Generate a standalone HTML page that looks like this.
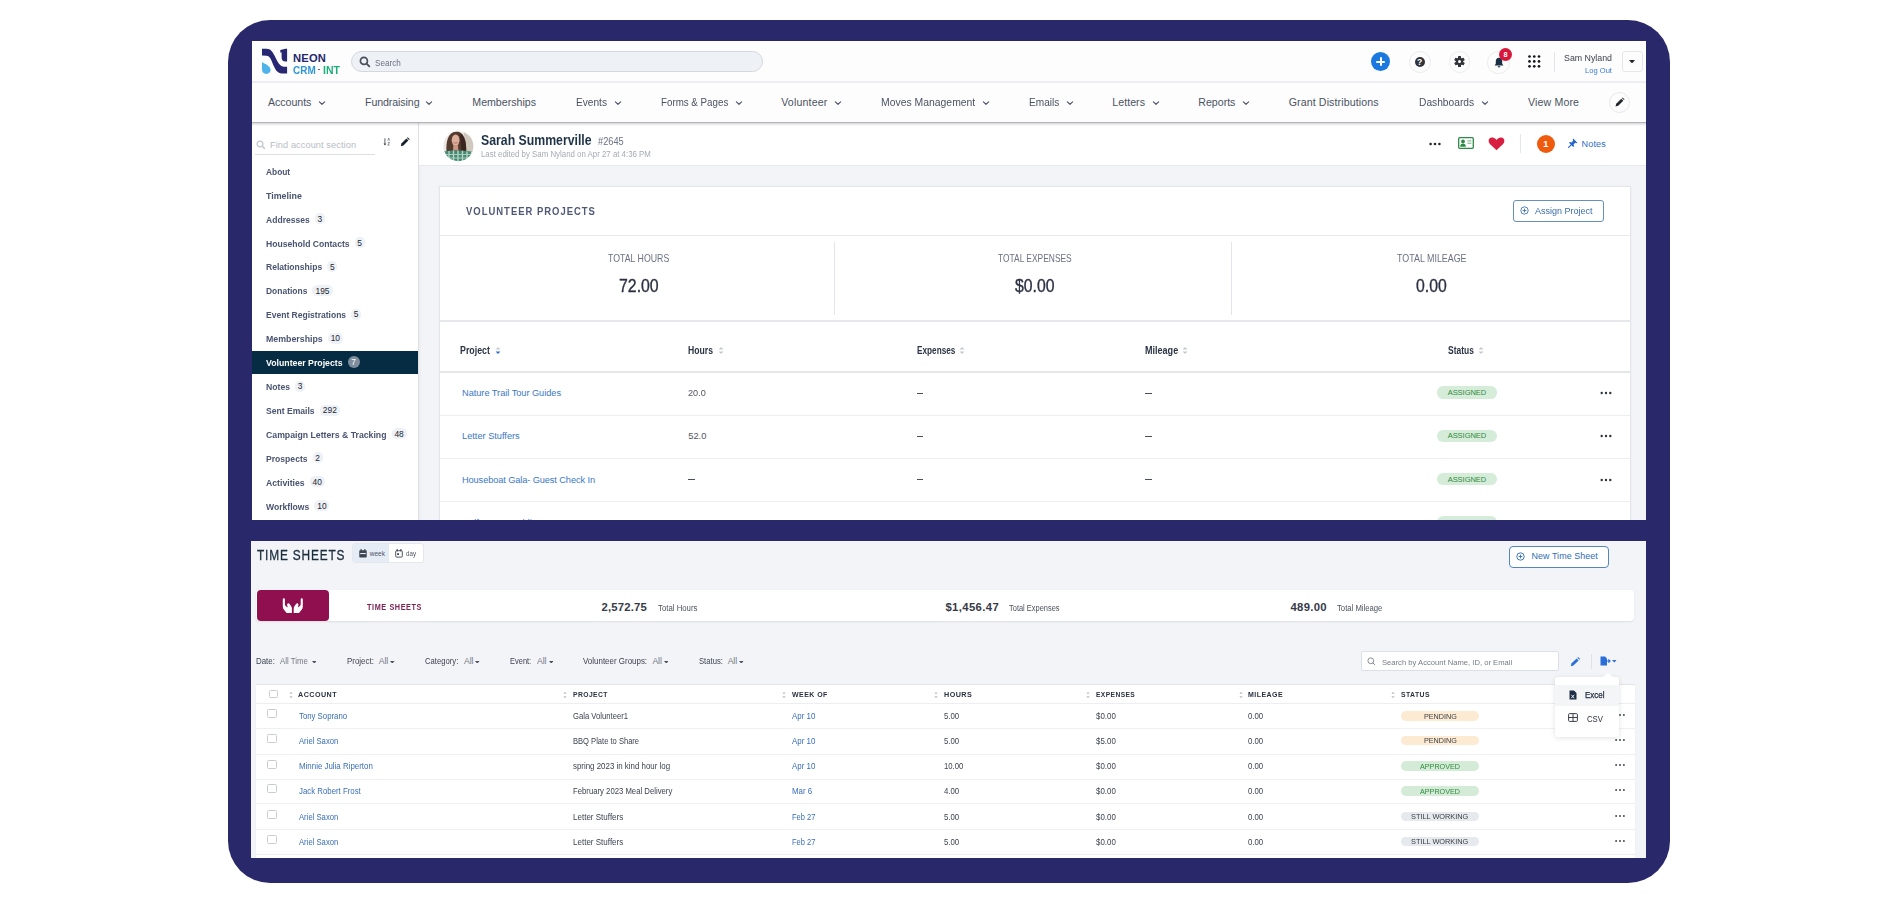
<!DOCTYPE html>
<html><head><meta charset="utf-8"><title>Volunteer Projects - Neon CRM</title>
<style>
html,body{margin:0;padding:0;background:#fff;}
body{width:1898px;height:903px;overflow:hidden;position:relative;font-family:"Liberation Sans",sans-serif;}
.a{position:absolute;display:block;}
.t{position:absolute;white-space:nowrap;}
.scr{position:absolute;overflow:hidden;}
.in{position:absolute;}
</style></head><body>
<div class="a" style="left:228px;top:20px;width:1442px;height:863px;background:#29286b;border-radius:42px;"></div>
<div class="scr" style="left:252px;top:41px;width:1394px;height:479px;background:#f3f4f8;"><div class="in" style="left:-252px;top:-41px;">
<div class="a" style="left:252px;top:41px;width:1394px;height:40px;background:#fdfdfd;"></div>
<div class="a" style="left:252px;top:81px;width:1394px;height:2px;background:#eceef2;"></div>
<div class="a" style="left:252px;top:83px;width:1394px;height:39px;background:#fdfdfd;"></div>
<div class="a" style="left:252px;top:122px;width:1394px;height:1px;background:#b3b4b7;"></div>
<svg class="a" style="left:258px;top:44px;" width="34" height="34" viewBox="0 0 34 34"><path d="M4 4.66 L8.6 4.66 C12.5 4.66 14.5 7.5 16.5 11.5 C18.5 15.5 20 19.5 23 21.7 C24.5 22.6 26 22.8 29.1 22.8 L29.1 29.6 L24 29.6 C19.5 29.2 17.5 26 15.5 21.5 C13.5 17 12.5 12 8.6 11.8 L4 11.6 Z" fill="#262672"/><path d="M22.3 6 L27.5 4.66 L29.1 4.66 L29.1 17.6 L27.5 17.6 C25 17.4 23.6 16.2 23.6 13.5 L23.6 8.6 L22.3 8.6 Z" fill="#262672"/><path d="M4 18.3 C8 20 12.6 22.5 12.6 26 C12.6 28.3 10.7 29.9 8.3 29.9 C5.9 29.9 4 28.2 4 25.8 Z" fill="#4db3ea"/></svg>
<div class="t" style="left:293.00px;top:53.00px;font-size:11.17px;line-height:11.17px;color:#25266b;font-weight:700;letter-spacing:0.203px;">NEON</div>
<div class="t" style="left:293.00px;top:65.00px;font-size:10.89px;line-height:10.89px;color:#2f95db;font-weight:700;transform:scaleX(0.9159);transform-origin:0 0;">CRM</div>
<div class="a" style="left:317.6px;top:69.2px;width:2.2px;height:1.3px;background:#666;"></div>
<div class="t" style="left:322.90px;top:65.00px;font-size:10.89px;line-height:10.89px;color:#1aae7c;font-weight:700;transform:scaleX(0.9636);transform-origin:0 0;">INT</div>
<div class="a" style="left:351px;top:51px;width:410px;height:19px;background:#eef1f6;border:1px solid #d3d7de;border-radius:11px;"></div>
<svg class="a" style="left:359px;top:56px;" width="12" height="12" viewBox="0 0 12 12"><circle cx="4.9" cy="4.9" r="3.5" fill="none" stroke="#4a4f5c" stroke-width="1.7"/><path d="M7.6 7.6 L10.3 10.3" stroke="#4a4f5c" stroke-width="1.9" stroke-linecap="round"/></svg>
<div class="t" style="left:374.80px;top:59.00px;font-size:8.80px;line-height:8.80px;color:#6b7080;transform:scaleX(0.9250);transform-origin:0 0;">Search</div>
<div class="a" style="left:1371px;top:52px;width:19.2px;height:19.2px;background:#1a78de;border-radius:50%;"></div>
<div class="a" style="left:1376.1px;top:60.7px;width:9px;height:1.9px;background:#fff;border-radius:1px;"></div>
<div class="a" style="left:1379.7px;top:57.1px;width:1.9px;height:9px;background:#fff;border-radius:1px;"></div>
<div class="a" style="left:1409.4px;top:51.3px;width:19.6px;height:19.6px;border:1px solid #ececee;border-radius:50%;"></div>
<div class="a" style="left:1414.7px;top:56.6px;width:10px;height:10px;background:#30333a;border-radius:50%;"></div>
<div class="t" style="left:1417.06px;top:58.00px;font-size:8.66px;line-height:8.66px;color:#fff;font-weight:700;">?</div>
<div class="a" style="left:1448.5px;top:51.3px;width:19.6px;height:19.6px;border:1px solid #ececee;border-radius:50%;"></div>
<svg class="a" style="left:1453.5px;top:56.1px;" width="11" height="11" viewBox="0 0 11 11"><g transform="translate(5.5 5.5)" fill="#30333a"><rect x="-1.5" y="-5.4" width="3" height="3" rx="0.5" transform="rotate(0)"/><rect x="-1.5" y="-5.4" width="3" height="3" rx="0.5" transform="rotate(60)"/><rect x="-1.5" y="-5.4" width="3" height="3" rx="0.5" transform="rotate(120)"/><rect x="-1.5" y="-5.4" width="3" height="3" rx="0.5" transform="rotate(180)"/><rect x="-1.5" y="-5.4" width="3" height="3" rx="0.5" transform="rotate(240)"/><rect x="-1.5" y="-5.4" width="3" height="3" rx="0.5" transform="rotate(300)"/><circle r="3.7"/></g><circle cx="5.5" cy="5.5" r="1.5" fill="#fff"/></svg>
<div class="a" style="left:1487.4px;top:51.1px;width:20.6px;height:20.6px;border:1px solid #ececee;border-radius:50%;"></div>
<svg class="a" style="left:1493.5px;top:56.5px;" width="10" height="11" viewBox="0 0 10 11"><path d="M5 0.8 C2.6 0.8 1.8 2.6 1.8 4.6 L1.8 6.8 L0.6 8.4 L9.4 8.4 L8.2 6.8 L8.2 4.6 C8.2 2.6 7.4 0.8 5 0.8 Z" fill="#1a2e44"/><rect x="3.8" y="9.2" width="2.4" height="1.1" fill="#1a2e44"/></svg>
<div class="a" style="left:1499px;top:47.7px;width:13px;height:13px;background:#d8173b;border-radius:50%;"></div>
<div class="t" style="left:1503.58px;top:51.00px;font-size:7.26px;line-height:7.26px;color:#fff;font-weight:700;">8</div>
<svg class="a" style="left:1527.5px;top:54.5px;" width="14" height="14" viewBox="0 0 14 14"><circle cx="1.50" cy="1.50" r="1.35" fill="#15171c"/><circle cx="1.50" cy="6.40" r="1.35" fill="#15171c"/><circle cx="1.50" cy="11.30" r="1.35" fill="#15171c"/><circle cx="6.25" cy="1.50" r="1.35" fill="#15171c"/><circle cx="6.25" cy="6.40" r="1.35" fill="#15171c"/><circle cx="6.25" cy="11.30" r="1.35" fill="#15171c"/><circle cx="11.00" cy="1.50" r="1.35" fill="#15171c"/><circle cx="11.00" cy="6.40" r="1.35" fill="#15171c"/><circle cx="11.00" cy="11.30" r="1.35" fill="#15171c"/></svg>
<div class="a" style="left:1554px;top:52px;width:1px;height:20px;background:#e4e5e8;"></div>
<div class="t" style="left:1564.00px;top:54.00px;font-size:9.08px;line-height:9.08px;color:#3a3f4b;transform:scaleX(0.9711);transform-origin:0 0;">Sam Nyland</div>
<div class="t" style="left:1585.00px;top:67.00px;font-size:8.10px;line-height:8.10px;color:#3a7bd5;transform:scaleX(0.9363);transform-origin:0 0;">Log Out</div>
<div class="a" style="left:1622.2px;top:51.2px;width:19px;height:19px;border:1px solid #e4e6ea;border-radius:3px;background:#fdfdfd;"></div>
<svg class="a" style="left:1629.0px;top:59.85px;" width="6" height="3.5" viewBox="0 0 6 3.5"><path d="M0 0 L6 0 L3.0 3.5 Z" fill="#23262c"/></svg>
<div class="t" style="left:268.00px;top:97.00px;font-size:10.61px;line-height:10.61px;color:#4b5262;letter-spacing:-0.040px;">Accounts</div>
<svg class="a" style="left:318.3px;top:100.0px;" width="8" height="6" viewBox="0 0 8 6"><path d="M1.4 1.9 L4 4.3 L6.6 1.9" fill="none" stroke="#50566a" stroke-width="1.2" stroke-linecap="round" stroke-linejoin="round"/></svg>
<div class="t" style="left:365.00px;top:97.00px;font-size:10.61px;line-height:10.61px;color:#4b5262;letter-spacing:-0.086px;">Fundraising</div>
<svg class="a" style="left:424.5px;top:100.0px;" width="8" height="6" viewBox="0 0 8 6"><path d="M1.4 1.9 L4 4.3 L6.6 1.9" fill="none" stroke="#50566a" stroke-width="1.2" stroke-linecap="round" stroke-linejoin="round"/></svg>
<div class="t" style="left:472.30px;top:97.00px;font-size:10.61px;line-height:10.61px;color:#4b5262;">Memberships</div>
<div class="t" style="left:576.00px;top:97.00px;font-size:10.61px;line-height:10.61px;color:#4b5262;transform:scaleX(0.9560);transform-origin:0 0;">Events</div>
<svg class="a" style="left:613.5px;top:100.0px;" width="8" height="6" viewBox="0 0 8 6"><path d="M1.4 1.9 L4 4.3 L6.6 1.9" fill="none" stroke="#50566a" stroke-width="1.2" stroke-linecap="round" stroke-linejoin="round"/></svg>
<div class="t" style="left:660.70px;top:97.00px;font-size:10.61px;line-height:10.61px;color:#4b5262;transform:scaleX(0.9202);transform-origin:0 0;">Forms &amp; Pages</div>
<svg class="a" style="left:735px;top:100.0px;" width="8" height="6" viewBox="0 0 8 6"><path d="M1.4 1.9 L4 4.3 L6.6 1.9" fill="none" stroke="#50566a" stroke-width="1.2" stroke-linecap="round" stroke-linejoin="round"/></svg>
<div class="t" style="left:781.20px;top:97.00px;font-size:10.61px;line-height:10.61px;color:#4b5262;letter-spacing:0.169px;">Volunteer</div>
<svg class="a" style="left:834px;top:100.0px;" width="8" height="6" viewBox="0 0 8 6"><path d="M1.4 1.9 L4 4.3 L6.6 1.9" fill="none" stroke="#50566a" stroke-width="1.2" stroke-linecap="round" stroke-linejoin="round"/></svg>
<div class="t" style="left:880.70px;top:97.00px;font-size:10.61px;line-height:10.61px;color:#4b5262;transform:scaleX(0.9806);transform-origin:0 0;">Moves Management</div>
<svg class="a" style="left:982px;top:100.0px;" width="8" height="6" viewBox="0 0 8 6"><path d="M1.4 1.9 L4 4.3 L6.6 1.9" fill="none" stroke="#50566a" stroke-width="1.2" stroke-linecap="round" stroke-linejoin="round"/></svg>
<div class="t" style="left:1028.70px;top:97.00px;font-size:10.61px;line-height:10.61px;color:#4b5262;transform:scaleX(0.9515);transform-origin:0 0;">Emails</div>
<svg class="a" style="left:1065.5px;top:100.0px;" width="8" height="6" viewBox="0 0 8 6"><path d="M1.4 1.9 L4 4.3 L6.6 1.9" fill="none" stroke="#50566a" stroke-width="1.2" stroke-linecap="round" stroke-linejoin="round"/></svg>
<div class="t" style="left:1112.30px;top:97.00px;font-size:10.61px;line-height:10.61px;color:#4b5262;letter-spacing:0.045px;">Letters</div>
<svg class="a" style="left:1151.5px;top:100.0px;" width="8" height="6" viewBox="0 0 8 6"><path d="M1.4 1.9 L4 4.3 L6.6 1.9" fill="none" stroke="#50566a" stroke-width="1.2" stroke-linecap="round" stroke-linejoin="round"/></svg>
<div class="t" style="left:1198.30px;top:97.00px;font-size:10.61px;line-height:10.61px;color:#4b5262;letter-spacing:-0.008px;">Reports</div>
<svg class="a" style="left:1241.5px;top:100.0px;" width="8" height="6" viewBox="0 0 8 6"><path d="M1.4 1.9 L4 4.3 L6.6 1.9" fill="none" stroke="#50566a" stroke-width="1.2" stroke-linecap="round" stroke-linejoin="round"/></svg>
<div class="t" style="left:1288.70px;top:97.00px;font-size:10.61px;line-height:10.61px;color:#4b5262;letter-spacing:0.117px;">Grant Distributions</div>
<div class="t" style="left:1419.20px;top:97.00px;font-size:10.61px;line-height:10.61px;color:#4b5262;transform:scaleX(0.9631);transform-origin:0 0;">Dashboards</div>
<svg class="a" style="left:1481px;top:100.0px;" width="8" height="6" viewBox="0 0 8 6"><path d="M1.4 1.9 L4 4.3 L6.6 1.9" fill="none" stroke="#50566a" stroke-width="1.2" stroke-linecap="round" stroke-linejoin="round"/></svg>
<div class="t" style="left:1528.00px;top:97.00px;font-size:10.61px;line-height:10.61px;color:#4b5262;letter-spacing:0.132px;">View More</div>
<div class="a" style="left:1608.8px;top:91.9px;width:19.2px;height:19.2px;border:1px solid #e6e7ea;border-radius:50%;background:#fdfdfd;"></div>
<svg class="a" style="left:1613.5px;top:96.5px;" width="11" height="11" viewBox="0 0 11 11"><path d="M1.5 9.5 L2.2 6.8 L7.3 1.7 L9.3 3.7 L4.2 8.8 Z" fill="#23262c"/><path d="M7.9 1.1 L8.6 0.4 L10.6 2.4 L9.9 3.1 Z" fill="#23262c"/></svg>
<div class="a" style="left:252px;top:123px;width:166px;height:397px;background:#fff;"></div>
<div class="a" style="left:418px;top:123px;width:1px;height:397px;background:#dfe0e4;"></div>
<div class="a" style="left:419px;top:123px;width:1.5px;height:397px;background:#eeeff2;"></div>
<svg class="a" style="left:255.5px;top:139.5px;" width="10" height="10" viewBox="0 0 10 10"><circle cx="4" cy="4" r="2.9" fill="none" stroke="#c3c7ce" stroke-width="1.3"/><path d="M6.2 6.2 L8.4 8.4" stroke="#c3c7ce" stroke-width="1.5" stroke-linecap="round"/></svg>
<div class="t" style="left:270.00px;top:141.00px;font-size:9.22px;line-height:9.22px;color:#b9bdc6;letter-spacing:0.077px;">Find account section</div>
<div class="a" style="left:255px;top:154px;width:120px;height:1px;background:#dcdfe4;"></div>
<svg class="a" style="left:382.5px;top:136.5px;" width="9" height="10" viewBox="0 0 9 10"><path d="M1.9 1.3 L1.9 8" stroke="#4a4f58" stroke-width="0.9"/><path d="M0.5 6.4 L1.9 8.4 L3.3 6.4 Z" fill="#4a4f58"/><path d="M4.9 3.6 L5.7 1.2 L6.5 3.6" fill="none" stroke="#5a5f68" stroke-width="0.7"/><path d="M4.8 5.4 L6.6 5.4 L4.8 8.1 L6.6 8.1" fill="none" stroke="#5a5f68" stroke-width="0.7"/></svg>
<svg class="a" style="left:399.5px;top:136.5px;" width="10" height="10" viewBox="0 0 10 10"><path d="M0.8 9.2 L1.4 6.6 L6.4 1.6 L8.4 3.6 L3.4 8.6 Z" fill="#17222f"/><path d="M7 1 L7.7 0.3 L9.7 2.3 L9 3 Z" fill="#17222f"/></svg>
<div class="t" style="left:266.30px;top:167.00px;font-size:9.64px;line-height:9.64px;color:#4a5470;font-weight:700;transform:scaleX(0.8689);transform-origin:0 0;">About</div>
<div class="t" style="left:266.30px;top:191.00px;font-size:9.64px;line-height:9.64px;color:#4a5470;font-weight:700;transform:scaleX(0.9221);transform-origin:0 0;">Timeline</div>
<div class="t" style="left:266.30px;top:215.00px;font-size:9.64px;line-height:9.64px;color:#4a5470;font-weight:700;transform:scaleX(0.8886);transform-origin:0 0;">Addresses</div>
<div class="a" style="left:314.70000000000005px;top:213.14000000000001px;width:10.2px;height:11px;background:#eef2f7;border-radius:5.5px;box-shadow:0 0 1px #eef2f7;"></div>
<div class="t" style="left:317.47px;top:215.00px;font-size:8.38px;line-height:8.38px;color:#23262e;">3</div>
<div class="t" style="left:266.30px;top:239.00px;font-size:9.64px;line-height:9.64px;color:#4a5470;font-weight:700;transform:scaleX(0.8931);transform-origin:0 0;">Household Contacts</div>
<div class="a" style="left:354.6px;top:237.06px;width:10.2px;height:11px;background:#eef2f7;border-radius:5.5px;box-shadow:0 0 1px #eef2f7;"></div>
<div class="t" style="left:357.37px;top:239.00px;font-size:8.38px;line-height:8.38px;color:#23262e;">5</div>
<div class="t" style="left:266.30px;top:262.00px;font-size:9.64px;line-height:9.64px;color:#4a5470;font-weight:700;transform:scaleX(0.8913);transform-origin:0 0;">Relationships</div>
<div class="a" style="left:327.20000000000005px;top:260.98px;width:10.2px;height:11px;background:#eef2f7;border-radius:5.5px;box-shadow:0 0 1px #eef2f7;"></div>
<div class="t" style="left:329.97px;top:263.00px;font-size:8.38px;line-height:8.38px;color:#23262e;">5</div>
<div class="t" style="left:266.30px;top:286.00px;font-size:9.64px;line-height:9.64px;color:#4a5470;font-weight:700;transform:scaleX(0.8785);transform-origin:0 0;">Donations</div>
<div class="a" style="left:312.3px;top:284.90000000000003px;width:20.5px;height:11px;background:#eef2f7;border-radius:5.5px;box-shadow:0 0 1px #eef2f7;"></div>
<div class="t" style="left:315.55px;top:287.00px;font-size:8.38px;line-height:8.38px;color:#23262e;">195</div>
<div class="t" style="left:266.30px;top:310.00px;font-size:9.64px;line-height:9.64px;color:#4a5470;font-weight:700;transform:scaleX(0.8863);transform-origin:0 0;">Event Registrations</div>
<div class="a" style="left:351.1px;top:308.82000000000005px;width:10.2px;height:11px;background:#eef2f7;border-radius:5.5px;box-shadow:0 0 1px #eef2f7;"></div>
<div class="t" style="left:353.87px;top:310.00px;font-size:8.38px;line-height:8.38px;color:#23262e;">5</div>
<div class="t" style="left:266.30px;top:334.00px;font-size:9.64px;line-height:9.64px;color:#4a5470;font-weight:700;transform:scaleX(0.9145);transform-origin:0 0;">Memberships</div>
<div class="a" style="left:327.70000000000005px;top:332.74px;width:15.2px;height:11px;background:#eef2f7;border-radius:5.5px;box-shadow:0 0 1px #eef2f7;"></div>
<div class="t" style="left:330.65px;top:334.00px;font-size:8.38px;line-height:8.38px;color:#23262e;">10</div>
<div class="a" style="left:252px;top:351.1px;width:166px;height:23.4px;background:#052c43;"></div>
<div class="t" style="left:266.30px;top:358.00px;font-size:9.64px;line-height:9.64px;color:#ffffff;font-weight:700;transform:scaleX(0.9086);transform-origin:0 0;">Volunteer Projects</div>
<div class="a" style="left:347.5px;top:355.66px;width:12px;height:12px;background:#7d8d9c;border-radius:50%;"></div>
<div class="t" style="left:351.17px;top:358.00px;font-size:8.38px;line-height:8.38px;color:#fff;">7</div>
<div class="t" style="left:266.30px;top:382.00px;font-size:9.64px;line-height:9.64px;color:#4a5470;font-weight:700;transform:scaleX(0.8996);transform-origin:0 0;">Notes</div>
<div class="a" style="left:295.0px;top:380.58000000000004px;width:10.2px;height:11px;background:#eef2f7;border-radius:5.5px;box-shadow:0 0 1px #eef2f7;"></div>
<div class="t" style="left:297.77px;top:382.00px;font-size:8.38px;line-height:8.38px;color:#23262e;">3</div>
<div class="t" style="left:266.30px;top:406.00px;font-size:9.64px;line-height:9.64px;color:#4a5470;font-weight:700;transform:scaleX(0.8913);transform-origin:0 0;">Sent Emails</div>
<div class="a" style="left:319.6px;top:404.5px;width:20.5px;height:11px;background:#eef2f7;border-radius:5.5px;box-shadow:0 0 1px #eef2f7;"></div>
<div class="t" style="left:322.85px;top:406.00px;font-size:8.38px;line-height:8.38px;color:#23262e;">292</div>
<div class="t" style="left:266.30px;top:430.00px;font-size:9.64px;line-height:9.64px;color:#4a5470;font-weight:700;transform:scaleX(0.9045);transform-origin:0 0;">Campaign Letters &amp; Tracking</div>
<div class="a" style="left:391.5px;top:428.42px;width:15.2px;height:11px;background:#eef2f7;border-radius:5.5px;box-shadow:0 0 1px #eef2f7;"></div>
<div class="t" style="left:394.45px;top:430.00px;font-size:8.38px;line-height:8.38px;color:#23262e;">48</div>
<div class="t" style="left:266.30px;top:454.00px;font-size:9.64px;line-height:9.64px;color:#4a5470;font-weight:700;transform:scaleX(0.8928);transform-origin:0 0;">Prospects</div>
<div class="a" style="left:312.5px;top:452.34000000000003px;width:10.2px;height:11px;background:#eef2f7;border-radius:5.5px;box-shadow:0 0 1px #eef2f7;"></div>
<div class="t" style="left:315.27px;top:454.00px;font-size:8.38px;line-height:8.38px;color:#23262e;">2</div>
<div class="t" style="left:266.30px;top:478.00px;font-size:9.64px;line-height:9.64px;color:#4a5470;font-weight:700;transform:scaleX(0.9034);transform-origin:0 0;">Activities</div>
<div class="a" style="left:309.6px;top:476.26000000000005px;width:15.2px;height:11px;background:#eef2f7;border-radius:5.5px;box-shadow:0 0 1px #eef2f7;"></div>
<div class="t" style="left:312.55px;top:478.00px;font-size:8.38px;line-height:8.38px;color:#23262e;">40</div>
<div class="t" style="left:266.30px;top:502.00px;font-size:9.64px;line-height:9.64px;color:#4a5470;font-weight:700;transform:scaleX(0.8936);transform-origin:0 0;">Workflows</div>
<div class="a" style="left:314.3px;top:500.18px;width:15.2px;height:11px;background:#eef2f7;border-radius:5.5px;box-shadow:0 0 1px #eef2f7;"></div>
<div class="t" style="left:317.25px;top:502.00px;font-size:8.38px;line-height:8.38px;color:#23262e;">10</div>
<div class="a" style="left:419px;top:123px;width:1227px;height:42px;background:#fff;"></div>
<div class="a" style="left:419px;top:165px;width:1227px;height:1px;background:#e6e8ed;"></div>
<svg class="a" style="left:443px;top:131px;" width="31" height="31" viewBox="0 0 31 31"><defs><clipPath id="avc"><circle cx="15.4" cy="15.2" r="15"/></clipPath><filter id="avb" x="-10%" y="-10%" width="120%" height="120%"><feGaussianBlur stdDeviation="0.55"/></filter></defs><g clip-path="url(#avc)"><g filter="url(#avb)"><rect x="-2" y="-2" width="35" height="35" fill="#ebe8e5"/><rect x="21" y="-2" width="12" height="24" fill="#d2c9be"/><path d="M3.5 21 C2.8 12 4.5 1.5 12.8 0.6 C20.5 0.4 23.5 8 23.2 21 Z" fill="#553a2d"/><path d="M16.5 2.5 C21 4.5 23.5 10 23.2 21 L18.5 21 C18 14 17.5 8 16.5 2.5 Z" fill="#3b2820"/><ellipse cx="12.6" cy="9.2" rx="3.9" ry="5.6" fill="#deae9c"/><path d="M10.6 11.2 C11.8 12.4 13.6 12.4 14.8 11.2" stroke="#a86b5e" stroke-width="0.9" fill="none"/><path d="M10.4 14 L14.8 14 L15.5 19.5 L10 19.5 Z" fill="#c99585"/><path d="M-2 33 L-2 21.5 C3 19.5 8 19 12.6 19.8 C18 19 25 19.5 33 21.5 L33 33 Z" fill="#4a8873"/><path d="M1.5 21 L1.5 33 M6 20 L6 33 M10.5 19.6 L10.5 33 M15 19.6 L15 33 M19.5 19.8 L19.5 33 M24 20.5 L24 33 M28.5 21 L28.5 33" stroke="#b6dacb" stroke-width="1.3"/><path d="M-2 23.5 L33 23.5 M-2 27 L33 27" stroke="#a6cfbf" stroke-width="1.1"/></g></g></svg>
<div class="t" style="left:481.00px;top:133.00px;font-size:14.11px;line-height:14.11px;color:#1f3347;font-weight:700;transform:scaleX(0.8707);transform-origin:0 0;">Sarah Summerville</div>
<div class="t" style="left:597.80px;top:136.00px;font-size:10.61px;line-height:10.61px;color:#687186;transform:scaleX(0.8709);transform-origin:0 0;">#2645</div>
<div class="t" style="left:481.00px;top:151.00px;font-size:8.24px;line-height:8.24px;color:#a5aab4;transform:scaleX(0.9540);transform-origin:0 0;">Last edited by Sam Nyland on Apr 27 at 4:36 PM</div>
<svg class="a" style="left:1429.3px;top:140.5px;" width="12" height="6" viewBox="0 0 12 6"><circle cx="1.60" cy="3" r="1.3" fill="#22252b"/><circle cx="6.00" cy="3" r="1.3" fill="#22252b"/><circle cx="10.40" cy="3" r="1.3" fill="#22252b"/></svg>
<svg class="a" style="left:1458px;top:137px;" width="16" height="12" viewBox="0 0 16 12"><rect x="0.7" y="0.7" width="14.6" height="10.6" rx="1" fill="#fff" stroke="#2e8a45" stroke-width="1.3"/><circle cx="5" cy="4.4" r="1.9" fill="#2e8a45"/><path d="M2.2 9.8 C2.2 7.4 3.4 6.6 5 6.6 C6.6 6.6 7.8 7.4 7.8 9.8 Z" fill="#2e8a45"/><rect x="9.4" y="3.2" width="4" height="1.3" fill="#8fc29c"/><rect x="9.4" y="5.6" width="4" height="1.3" fill="#8fc29c"/></svg>
<svg class="a" style="left:1488px;top:137px;" width="17" height="14" viewBox="0 0 17 14"><path d="M8.5 13.3 L1.9 7 C-0.2 4.9 0.3 1.3 3.3 0.6 C5.4 0.1 7.3 1.2 8.5 3 C9.7 1.2 11.6 0.1 13.7 0.6 C16.7 1.3 17.2 4.9 15.1 7 Z" fill="#d81f41"/></svg>
<div class="a" style="left:1520.3px;top:133.7px;width:1px;height:19.3px;background:#e6e7ea;"></div>
<div class="a" style="left:1536.7px;top:134.7px;width:18px;height:18px;background:#ef5b0c;border-radius:50%;"></div>
<div class="t" style="left:1543.34px;top:140.00px;font-size:9.22px;line-height:9.22px;color:#fff;font-weight:700;">1</div>
<svg class="a" style="left:1568px;top:137.5px;" width="10" height="10" viewBox="0 0 10 10"><path d="M5.2 0.6 L9.4 4.8 L8.4 5.3 L7.2 4.8 L5.6 6.6 L6 8.3 L5.2 9 L1 4.8 L1.7 4 L3.4 4.4 L5.2 2.8 L4.7 1.6 Z" fill="#2466c8"/><path d="M3.2 6.8 L0.6 9.4" stroke="#2466c8" stroke-width="1.2" stroke-linecap="round"/></svg>
<div class="t" style="left:1581.60px;top:140.00px;font-size:9.08px;line-height:9.08px;color:#2f6ec8;letter-spacing:0.126px;">Notes</div>
<div class="a" style="left:439px;top:186px;width:1192px;height:340px;background:#fff;border:1px solid #e3e5ea;box-sizing:border-box;box-shadow:0 0 2px rgba(0,0,0,0.04);"></div>
<div class="t" style="left:466.40px;top:206.00px;font-size:10.61px;line-height:10.61px;color:#4f5977;font-weight:700;letter-spacing:1.100px;transform:scaleX(0.8938);transform-origin:0 0;">VOLUNTEER PROJECTS</div>
<div class="a" style="left:1512.5px;top:200.3px;width:91.3px;height:21.7px;border:1.3px solid #6690bb;border-radius:3px;box-sizing:border-box;background:#fff;"></div>
<svg class="a" style="left:1519.5px;top:206px;" width="9" height="9" viewBox="0 0 9 9"><circle cx="4.5" cy="4.5" r="3.7" fill="none" stroke="#3f73ad" stroke-width="0.9"/><path d="M4.5 2.6 L4.5 6.4 M2.6 4.5 L6.4 4.5" stroke="#3f73ad" stroke-width="0.9"/></svg>
<div class="t" style="left:1535.00px;top:206.00px;font-size:9.92px;line-height:9.92px;color:#3a6ea8;transform:scaleX(0.9090);transform-origin:0 0;">Assign Project</div>
<div class="a" style="left:440px;top:234.5px;width:1190px;height:1.5px;background:#e6e8ec;"></div>
<div class="t" style="left:607.90px;top:254.00px;font-size:10.06px;line-height:10.06px;color:#6c7183;transform:scaleX(0.8741);transform-origin:0 0;">TOTAL HOURS</div>
<div class="t" style="left:618.70px;top:277.00px;font-size:18.16px;line-height:18.16px;color:#2c3143;transform:scaleX(0.8729);transform-origin:0 0;-webkit-text-stroke:0.35px #2c3143;">72.00</div>
<div class="t" style="left:998.40px;top:254.00px;font-size:10.06px;line-height:10.06px;color:#6c7183;transform:scaleX(0.8373);transform-origin:0 0;">TOTAL EXPENSES</div>
<div class="t" style="left:1015.30px;top:277.00px;font-size:18.16px;line-height:18.16px;color:#2c3143;transform:scaleX(0.8685);transform-origin:0 0;-webkit-text-stroke:0.35px #2c3143;">$0.00</div>
<div class="t" style="left:1397.20px;top:254.00px;font-size:10.06px;line-height:10.06px;color:#6c7183;transform:scaleX(0.8856);transform-origin:0 0;">TOTAL MILEAGE</div>
<div class="t" style="left:1416.20px;top:277.00px;font-size:18.16px;line-height:18.16px;color:#2c3143;transform:scaleX(0.8693);transform-origin:0 0;-webkit-text-stroke:0.35px #2c3143;">0.00</div>
<div class="a" style="left:834px;top:241.6px;width:1px;height:73.2px;background:#e3e5ea;"></div>
<div class="a" style="left:1231px;top:241.6px;width:1px;height:73.2px;background:#e3e5ea;"></div>
<div class="a" style="left:440px;top:320.3px;width:1190px;height:1.5px;background:#e6e8ec;"></div>
<div class="t" style="left:459.80px;top:346.00px;font-size:10.06px;line-height:10.06px;color:#2b3444;font-weight:700;transform:scaleX(0.8771);transform-origin:0 0;">Project</div>
<svg class="a" style="left:494.5px;top:346.1px;" width="6" height="9" viewBox="0 0 6 9"><path d="M0.6 3.6 L3 1 L5.4 3.6 Z" fill="#c4c8d0"/><path d="M0.6 5.4 L3 8 L5.4 5.4 Z" fill="#2a6ccc"/></svg>
<div class="t" style="left:688.20px;top:346.00px;font-size:10.06px;line-height:10.06px;color:#2b3444;font-weight:700;transform:scaleX(0.8602);transform-origin:0 0;">Hours</div>
<svg class="a" style="left:718.2px;top:346.1px;" width="6" height="9" viewBox="0 0 6 9"><path d="M0.6 3.6 L3 1 L5.4 3.6 Z" fill="#c3c7cf"/><path d="M0.6 5.4 L3 8 L5.4 5.4 Z" fill="#c3c7cf"/></svg>
<div class="t" style="left:916.60px;top:346.00px;font-size:10.06px;line-height:10.06px;color:#2b3444;font-weight:700;transform:scaleX(0.8177);transform-origin:0 0;">Expenses</div>
<svg class="a" style="left:959px;top:346.1px;" width="6" height="9" viewBox="0 0 6 9"><path d="M0.6 3.6 L3 1 L5.4 3.6 Z" fill="#c3c7cf"/><path d="M0.6 5.4 L3 8 L5.4 5.4 Z" fill="#c3c7cf"/></svg>
<div class="t" style="left:1144.80px;top:346.00px;font-size:10.06px;line-height:10.06px;color:#2b3444;font-weight:700;transform:scaleX(0.8996);transform-origin:0 0;">Mileage</div>
<svg class="a" style="left:1182px;top:346.1px;" width="6" height="9" viewBox="0 0 6 9"><path d="M0.6 3.6 L3 1 L5.4 3.6 Z" fill="#c3c7cf"/><path d="M0.6 5.4 L3 8 L5.4 5.4 Z" fill="#c3c7cf"/></svg>
<div class="t" style="left:1447.70px;top:346.00px;font-size:10.06px;line-height:10.06px;color:#2b3444;font-weight:700;transform:scaleX(0.8431);transform-origin:0 0;">Status</div>
<svg class="a" style="left:1478px;top:346.1px;" width="6" height="9" viewBox="0 0 6 9"><path d="M0.6 3.6 L3 1 L5.4 3.6 Z" fill="#c3c7cf"/><path d="M0.6 5.4 L3 8 L5.4 5.4 Z" fill="#c3c7cf"/></svg>
<div class="a" style="left:440px;top:371px;width:1190px;height:1.8px;background:#e4e6ea;"></div>
<div class="t" style="left:462.00px;top:389.00px;font-size:9.22px;line-height:9.22px;color:#3a78c6;letter-spacing:-0.032px;">Nature Trail Tour Guides</div>
<div class="t" style="left:688.20px;top:389.00px;font-size:9.36px;line-height:9.36px;color:#50555f;transform:scaleX(0.9780);transform-origin:0 0;">20.0</div>
<div class="a" style="left:916.6px;top:393px;width:6.8px;height:1px;background:#4a4f59;"></div>
<div class="a" style="left:1145px;top:393px;width:6.8px;height:1px;background:#4a4f59;"></div>
<div class="a" style="left:1437.3px;top:386.3px;width:59.4px;height:12.6px;background:#d5ecd8;border-radius:6.3px;"></div>
<div class="t" style="left:1447.70px;top:389.00px;font-size:7.54px;line-height:7.54px;color:#2f8a3e;letter-spacing:-0.056px;">ASSIGNED</div>
<svg class="a" style="left:1600px;top:390.0px;" width="12" height="6" viewBox="0 0 12 6"><circle cx="1.70" cy="3" r="1.2" fill="#30343c"/><circle cx="6.00" cy="3" r="1.2" fill="#30343c"/><circle cx="10.30" cy="3" r="1.2" fill="#30343c"/></svg>
<div class="a" style="left:440px;top:414.5px;width:1190px;height:1px;background:#edeef1;"></div>
<div class="t" style="left:462.00px;top:432.00px;font-size:9.22px;line-height:9.22px;color:#3a78c6;">Letter Stuffers</div>
<div class="t" style="left:688.20px;top:432.00px;font-size:9.36px;line-height:9.36px;color:#50555f;">52.0</div>
<div class="a" style="left:916.6px;top:436px;width:6.8px;height:1px;background:#4a4f59;"></div>
<div class="a" style="left:1145px;top:436px;width:6.8px;height:1px;background:#4a4f59;"></div>
<div class="a" style="left:1437.3px;top:429.5px;width:59.4px;height:12.6px;background:#d5ecd8;border-radius:6.3px;"></div>
<div class="t" style="left:1447.70px;top:432.00px;font-size:7.54px;line-height:7.54px;color:#2f8a3e;letter-spacing:-0.056px;">ASSIGNED</div>
<svg class="a" style="left:1600px;top:433.2px;" width="12" height="6" viewBox="0 0 12 6"><circle cx="1.70" cy="3" r="1.2" fill="#30343c"/><circle cx="6.00" cy="3" r="1.2" fill="#30343c"/><circle cx="10.30" cy="3" r="1.2" fill="#30343c"/></svg>
<div class="a" style="left:440px;top:457.8px;width:1190px;height:1px;background:#edeef1;"></div>
<div class="t" style="left:462.00px;top:476.00px;font-size:9.22px;line-height:9.22px;color:#3a78c6;letter-spacing:-0.096px;">Houseboat Gala- Guest Check In</div>
<div class="a" style="left:688.2px;top:479px;width:6.8px;height:1px;background:#4a4f59;"></div>
<div class="a" style="left:916.6px;top:479px;width:6.8px;height:1px;background:#4a4f59;"></div>
<div class="a" style="left:1145px;top:479px;width:6.8px;height:1px;background:#4a4f59;"></div>
<div class="a" style="left:1437.3px;top:472.8px;width:59.4px;height:12.6px;background:#d5ecd8;border-radius:6.3px;"></div>
<div class="t" style="left:1447.70px;top:476.00px;font-size:7.54px;line-height:7.54px;color:#2f8a3e;letter-spacing:-0.056px;">ASSIGNED</div>
<svg class="a" style="left:1600px;top:476.5px;" width="12" height="6" viewBox="0 0 12 6"><circle cx="1.70" cy="3" r="1.2" fill="#30343c"/><circle cx="6.00" cy="3" r="1.2" fill="#30343c"/><circle cx="10.30" cy="3" r="1.2" fill="#30343c"/></svg>
<div class="a" style="left:440px;top:500.9px;width:1190px;height:1px;background:#edeef1;"></div>
<div class="t" style="left:462.00px;top:519.00px;font-size:9.22px;line-height:9.22px;color:#3a78c6;">Golf Event Caddies</div>
<div class="a" style="left:688.2px;top:522px;width:6.8px;height:1px;background:#4a4f59;"></div>
<div class="a" style="left:916.6px;top:522px;width:6.8px;height:1px;background:#4a4f59;"></div>
<div class="a" style="left:1145px;top:522px;width:6.8px;height:1px;background:#4a4f59;"></div>
<div class="a" style="left:1437.3px;top:516.1px;width:59.4px;height:12.6px;background:#d5ecd8;border-radius:6.3px;"></div>
<div class="t" style="left:1447.70px;top:519.00px;font-size:7.54px;line-height:7.54px;color:#2f8a3e;letter-spacing:-0.056px;">ASSIGNED</div>
<svg class="a" style="left:1600px;top:519.8px;" width="12" height="6" viewBox="0 0 12 6"><circle cx="1.70" cy="3" r="1.2" fill="#30343c"/><circle cx="6.00" cy="3" r="1.2" fill="#30343c"/><circle cx="10.30" cy="3" r="1.2" fill="#30343c"/></svg>
<div class="a" style="left:252px;top:123px;width:1394px;height:3px;background:linear-gradient(rgba(0,0,0,0.16),rgba(0,0,0,0));"></div>
</div></div>
<div class="scr" style="left:251px;top:541px;width:1395px;height:317px;background:#f3f4f8;"><div class="in" style="left:-251px;top:-541px;">
<div class="t" style="left:256.50px;top:548.00px;font-size:14.53px;line-height:14.53px;color:#1b2e3e;letter-spacing:1.000px;transform:scaleX(0.8187);transform-origin:0 0;-webkit-text-stroke:0.3px #1b2e3e;">TIME SHEETS</div>
<div class="a" style="left:352.2px;top:543.2px;width:71.5px;height:20.2px;border:1px solid #e4e7ec;border-radius:3px;box-sizing:border-box;background:#fff;"></div>
<div class="a" style="left:353.2px;top:544.2px;width:34.5px;height:18.2px;background:#e5ecf6;"></div>
<div class="a" style="left:387.7px;top:544.2px;width:1px;height:18.2px;background:#e6e9ee;"></div>
<svg class="a" style="left:358.5px;top:548.5px;" width="8" height="9" viewBox="0 0 8 9"><rect x="0.3" y="1.3" width="7.4" height="7.2" rx="0.8" fill="#3e4452"/><rect x="1.6" y="0" width="1.1" height="2.4" fill="#3e4452"/><rect x="5.3" y="0" width="1.1" height="2.4" fill="#3e4452"/><rect x="1.2" y="4" width="5.6" height="1.1" fill="#e4ebf5"/></svg>
<div class="t" style="left:369.63px;top:551.00px;font-size:6.42px;line-height:6.42px;color:#4d5261;letter-spacing:0.145px;">week</div>
<svg class="a" style="left:394.5px;top:548.5px;" width="8" height="9" viewBox="0 0 8 9"><rect x="0.7" y="1.7" width="6.6" height="6.4" rx="0.8" fill="none" stroke="#3e4452" stroke-width="0.9"/><rect x="1.6" y="0" width="1.1" height="2.4" fill="#3e4452"/><rect x="5.3" y="0" width="1.1" height="2.4" fill="#3e4452"/><rect x="2.2" y="4.2" width="1.8" height="1.8" fill="#3e4452"/></svg>
<div class="t" style="left:406.00px;top:551.00px;font-size:6.42px;line-height:6.42px;color:#4d5261;transform:scaleX(0.9668);transform-origin:0 0;">day</div>
<div class="a" style="left:1509.4px;top:546.1px;width:99.5px;height:21.7px;border:1.3px solid #5486ba;border-radius:4px;box-sizing:border-box;background:#fff;"></div>
<svg class="a" style="left:1516px;top:552.2px;" width="9" height="9" viewBox="0 0 9 9"><circle cx="4.5" cy="4.5" r="3.7" fill="none" stroke="#2f6db5" stroke-width="0.9"/><path d="M4.5 2.6 L4.5 6.4 M2.6 4.5 L6.4 4.5" stroke="#2f6db5" stroke-width="0.9"/></svg>
<div class="t" style="left:1531.60px;top:552.00px;font-size:8.94px;line-height:8.94px;color:#2f6db5;letter-spacing:0.049px;">New Time Sheet</div>
<div class="a" style="left:256px;top:589.5px;width:1378px;height:31.5px;background:#fff;border-radius:4px;box-shadow:0 1px 2px rgba(30,40,60,0.10);"></div>
<div class="a" style="left:256.8px;top:589.8px;width:72.2px;height:31px;background:#900f4f;border-radius:4px;"></div>
<svg class="a" style="left:278px;top:594px;" width="30" height="24" viewBox="0 0 30 24"><path d="M4.8 5.4 C4.8 4.6 5.3 4.2 5.85 4.2 C6.4 4.2 6.9 4.6 6.9 5.4 L6.9 10.2 C6.9 11 7.5 11.8 8.3 12.4 L9.8 13.4 L9.6 12.4 C9 11.4 9 10.3 9.5 9.7 C10.1 9.1 11 9.3 11.6 10.1 L13.3 12.6 C13.7 13.2 13.9 13.9 13.9 14.6 L13.9 19 L8.6 19 L5.8 15.5 C5.2 14.7 4.8 13.8 4.8 12.8 Z" fill="#fff"/><path d="M4.8 5.4 C4.8 4.6 5.3 4.2 5.85 4.2 C6.4 4.2 6.9 4.6 6.9 5.4 L6.9 10.2 C6.9 11 7.5 11.8 8.3 12.4 L9.8 13.4 L9.6 12.4 C9 11.4 9 10.3 9.5 9.7 C10.1 9.1 11 9.3 11.6 10.1 L13.3 12.6 C13.7 13.2 13.9 13.9 13.9 14.6 L13.9 19 L8.6 19 L5.8 15.5 C5.2 14.7 4.8 13.8 4.8 12.8 Z" fill="#fff" transform="translate(29.6 0) scale(-1 1)"/></svg>
<div class="t" style="left:367.00px;top:603.00px;font-size:8.38px;line-height:8.38px;color:#7b2352;font-weight:700;letter-spacing:0.700px;transform:scaleX(0.8665);transform-origin:0 0;">TIME SHEETS</div>
<div class="t" style="left:601.60px;top:602.00px;font-size:11.31px;line-height:11.31px;color:#353a48;font-weight:700;letter-spacing:0.177px;">2,572.75</div>
<div class="t" style="left:658.00px;top:605.00px;font-size:8.24px;line-height:8.24px;color:#4f5360;transform:scaleX(0.9473);transform-origin:0 0;">Total Hours</div>
<div class="t" style="left:945.40px;top:602.00px;font-size:11.31px;line-height:11.31px;color:#353a48;font-weight:700;letter-spacing:0.382px;">$1,456.47</div>
<div class="t" style="left:1009.40px;top:605.00px;font-size:8.24px;line-height:8.24px;color:#4f5360;transform:scaleX(0.9057);transform-origin:0 0;">Total Expenses</div>
<div class="t" style="left:1290.40px;top:602.00px;font-size:11.31px;line-height:11.31px;color:#353a48;font-weight:700;letter-spacing:0.337px;">489.00</div>
<div class="t" style="left:1337.40px;top:605.00px;font-size:8.24px;line-height:8.24px;color:#4f5360;transform:scaleX(0.9354);transform-origin:0 0;">Total Mileage</div>
<div class="t" style="left:255.80px;top:657.00px;font-size:8.66px;line-height:8.66px;color:#3d4452;transform:scaleX(0.9132);transform-origin:0 0;">Date:</div>
<div class="t" style="left:280.40px;top:657.00px;font-size:8.66px;line-height:8.66px;color:#757a87;transform:scaleX(0.9063);transform-origin:0 0;">All Time</div>
<svg class="a" style="left:311.9px;top:660.5px;" width="4.6" height="2.6" viewBox="0 0 4.6 2.6"><path d="M0 0 L4.6 0 L2.3 2.6 Z" fill="#4a505c"/></svg>
<div class="t" style="left:346.60px;top:657.00px;font-size:8.66px;line-height:8.66px;color:#3d4452;transform:scaleX(0.9164);transform-origin:0 0;">Project:</div>
<div class="t" style="left:378.80px;top:657.00px;font-size:8.66px;line-height:8.66px;color:#757a87;letter-spacing:-0.106px;">All</div>
<svg class="a" style="left:390.4px;top:660.5px;" width="4.6" height="2.6" viewBox="0 0 4.6 2.6"><path d="M0 0 L4.6 0 L2.3 2.6 Z" fill="#4a505c"/></svg>
<div class="t" style="left:424.70px;top:657.00px;font-size:8.66px;line-height:8.66px;color:#3d4452;transform:scaleX(0.8871);transform-origin:0 0;">Category:</div>
<div class="t" style="left:464.00px;top:657.00px;font-size:8.66px;line-height:8.66px;color:#757a87;letter-spacing:-0.106px;">All</div>
<svg class="a" style="left:475.3px;top:660.5px;" width="4.6" height="2.6" viewBox="0 0 4.6 2.6"><path d="M0 0 L4.6 0 L2.3 2.6 Z" fill="#4a505c"/></svg>
<div class="t" style="left:510.30px;top:657.00px;font-size:8.66px;line-height:8.66px;color:#3d4452;transform:scaleX(0.8636);transform-origin:0 0;">Event:</div>
<div class="t" style="left:537.00px;top:657.00px;font-size:8.66px;line-height:8.66px;color:#757a87;letter-spacing:-0.106px;">All</div>
<svg class="a" style="left:548.9000000000001px;top:660.5px;" width="4.6" height="2.6" viewBox="0 0 4.6 2.6"><path d="M0 0 L4.6 0 L2.3 2.6 Z" fill="#4a505c"/></svg>
<div class="t" style="left:583.20px;top:657.00px;font-size:8.66px;line-height:8.66px;color:#3d4452;transform:scaleX(0.9184);transform-origin:0 0;">Volunteer Groups:</div>
<div class="t" style="left:652.40px;top:657.00px;font-size:8.66px;line-height:8.66px;color:#757a87;letter-spacing:-0.106px;">All</div>
<svg class="a" style="left:663.7px;top:660.5px;" width="4.6" height="2.6" viewBox="0 0 4.6 2.6"><path d="M0 0 L4.6 0 L2.3 2.6 Z" fill="#4a505c"/></svg>
<div class="t" style="left:698.60px;top:657.00px;font-size:8.66px;line-height:8.66px;color:#3d4452;transform:scaleX(0.8861);transform-origin:0 0;">Status:</div>
<div class="t" style="left:727.70px;top:657.00px;font-size:8.66px;line-height:8.66px;color:#757a87;letter-spacing:-0.106px;">All</div>
<svg class="a" style="left:739.0px;top:660.5px;" width="4.6" height="2.6" viewBox="0 0 4.6 2.6"><path d="M0 0 L4.6 0 L2.3 2.6 Z" fill="#4a505c"/></svg>
<div class="a" style="left:1361.4px;top:651.4px;width:198px;height:20px;background:#fff;border:1px solid #dcdfe5;border-radius:2px;box-sizing:border-box;"></div>
<svg class="a" style="left:1366.5px;top:656.5px;" width="9" height="9" viewBox="0 0 9 9"><circle cx="3.8" cy="3.8" r="2.9" fill="none" stroke="#7d828d" stroke-width="0.9"/><path d="M6 6 L7.8 7.8" stroke="#7d828d" stroke-width="0.9" stroke-linecap="round"/></svg>
<div class="t" style="left:1382.40px;top:659.00px;font-size:8.10px;line-height:8.10px;color:#767b86;transform:scaleX(0.9426);transform-origin:0 0;">Search by Account Name, ID, or Email</div>
<svg class="a" style="left:1569.5px;top:655.5px;" width="11" height="11" viewBox="0 0 11 11"><path d="M0.8 10.2 L1.4 7.6 L6.6 2.4 L8.6 4.4 L3.4 9.6 Z" fill="#2b6fd6"/><path d="M7.3 1.7 L8.1 0.9 L10.1 2.9 L9.3 3.7 Z" fill="#2b6fd6"/></svg>
<div class="a" style="left:1591px;top:654px;width:1px;height:15px;background:#dfe2e7;"></div>
<svg class="a" style="left:1599.5px;top:656px;" width="11" height="10" viewBox="0 0 11 10"><path d="M0.5 0.5 L5 0.5 L7 2.5 L7 9.5 L0.5 9.5 Z" fill="#2a6fd8"/><path d="M5.5 5 L10 5 M8.4 3.4 L10 5 L8.4 6.6" stroke="#2a6fd8" stroke-width="1.2" fill="none"/></svg>
<svg class="a" style="left:1612.3px;top:660.0px;" width="4.6" height="2.6" viewBox="0 0 4.6 2.6"><path d="M0 0 L4.6 0 L2.3 2.6 Z" fill="#2a6fd8"/></svg>
<div class="a" style="left:255.6px;top:684.5px;width:1379.4px;height:174px;background:#fff;box-shadow:0 0 1px rgba(0,0,0,0.08);"></div>
<div class="a" style="left:255.6px;top:684px;width:1379.4px;height:1px;background:#e2e4e9;"></div>
<div class="a" style="left:269px;top:689.6px;width:9.4px;height:8.2px;border:1px solid #c9ccd2;border-radius:1.5px;box-sizing:border-box;background:#fff;"></div>
<div class="t" style="left:298.40px;top:691.00px;font-size:7.82px;line-height:7.82px;color:#2b3140;font-weight:700;letter-spacing:0.500px;transform:scaleX(0.9167);transform-origin:0 0;">ACCOUNT</div>
<svg class="a" style="left:288.5px;top:690.5px;" width="4" height="8" viewBox="0 0 4 8"><path d="M0.4 2.8 L2 0.8 L3.6 2.8 Z" fill="#b9bdc5"/><path d="M0.4 5.2 L2 7.2 L3.6 5.2 Z" fill="#b9bdc5"/></svg>
<div class="t" style="left:573.40px;top:691.00px;font-size:7.82px;line-height:7.82px;color:#2b3140;font-weight:700;letter-spacing:0.500px;transform:scaleX(0.8635);transform-origin:0 0;">PROJECT</div>
<svg class="a" style="left:563.4px;top:690.5px;" width="4" height="8" viewBox="0 0 4 8"><path d="M0.4 2.8 L2 0.8 L3.6 2.8 Z" fill="#b9bdc5"/><path d="M0.4 5.2 L2 7.2 L3.6 5.2 Z" fill="#b9bdc5"/></svg>
<div class="t" style="left:791.60px;top:691.00px;font-size:7.82px;line-height:7.82px;color:#2b3140;font-weight:700;letter-spacing:0.500px;transform:scaleX(0.8965);transform-origin:0 0;">WEEK OF</div>
<svg class="a" style="left:781.8px;top:690.5px;" width="4" height="8" viewBox="0 0 4 8"><path d="M0.4 2.8 L2 0.8 L3.6 2.8 Z" fill="#b9bdc5"/><path d="M0.4 5.2 L2 7.2 L3.6 5.2 Z" fill="#b9bdc5"/></svg>
<div class="t" style="left:943.60px;top:691.00px;font-size:7.82px;line-height:7.82px;color:#2b3140;font-weight:700;letter-spacing:0.500px;transform:scaleX(0.9195);transform-origin:0 0;">HOURS</div>
<svg class="a" style="left:933.7px;top:690.5px;" width="4" height="8" viewBox="0 0 4 8"><path d="M0.4 2.8 L2 0.8 L3.6 2.8 Z" fill="#b9bdc5"/><path d="M0.4 5.2 L2 7.2 L3.6 5.2 Z" fill="#b9bdc5"/></svg>
<div class="t" style="left:1096.20px;top:691.00px;font-size:7.82px;line-height:7.82px;color:#2b3140;font-weight:700;letter-spacing:0.500px;transform:scaleX(0.8498);transform-origin:0 0;">EXPENSES</div>
<svg class="a" style="left:1086.2px;top:690.5px;" width="4" height="8" viewBox="0 0 4 8"><path d="M0.4 2.8 L2 0.8 L3.6 2.8 Z" fill="#b9bdc5"/><path d="M0.4 5.2 L2 7.2 L3.6 5.2 Z" fill="#b9bdc5"/></svg>
<div class="t" style="left:1248.30px;top:691.00px;font-size:7.82px;line-height:7.82px;color:#2b3140;font-weight:700;letter-spacing:0.500px;transform:scaleX(0.8958);transform-origin:0 0;">MILEAGE</div>
<svg class="a" style="left:1238.6px;top:690.5px;" width="4" height="8" viewBox="0 0 4 8"><path d="M0.4 2.8 L2 0.8 L3.6 2.8 Z" fill="#b9bdc5"/><path d="M0.4 5.2 L2 7.2 L3.6 5.2 Z" fill="#b9bdc5"/></svg>
<div class="t" style="left:1400.50px;top:691.00px;font-size:7.82px;line-height:7.82px;color:#2b3140;font-weight:700;letter-spacing:0.500px;transform:scaleX(0.8770);transform-origin:0 0;">STATUS</div>
<svg class="a" style="left:1390.8px;top:690.5px;" width="4" height="8" viewBox="0 0 4 8"><path d="M0.4 2.8 L2 0.8 L3.6 2.8 Z" fill="#b9bdc5"/><path d="M0.4 5.2 L2 7.2 L3.6 5.2 Z" fill="#b9bdc5"/></svg>
<div class="a" style="left:255.6px;top:703px;width:1379.4px;height:1px;background:#eceef1;"></div>
<div class="a" style="left:267px;top:709.4px;width:9.6px;height:9px;border:1px solid #c9ccd2;border-radius:1.5px;box-sizing:border-box;background:#fff;"></div>
<div class="t" style="left:298.90px;top:712.00px;font-size:8.52px;line-height:8.52px;color:#3a6fb8;transform:scaleX(0.9150);transform-origin:0 0;">Tony Soprano</div>
<div class="t" style="left:573.40px;top:712.00px;font-size:8.52px;line-height:8.52px;color:#3d4350;transform:scaleX(0.9004);transform-origin:0 0;">Gala Volunteer1</div>
<div class="t" style="left:791.60px;top:712.00px;font-size:8.52px;line-height:8.52px;color:#3a6fb8;transform:scaleX(0.9326);transform-origin:0 0;">Apr 10</div>
<div class="t" style="left:943.60px;top:712.00px;font-size:8.52px;line-height:8.52px;color:#3d4350;transform:scaleX(0.9173);transform-origin:0 0;">5.00</div>
<div class="t" style="left:1096.20px;top:712.00px;font-size:8.52px;line-height:8.52px;color:#3d4350;transform:scaleX(0.9278);transform-origin:0 0;">$0.00</div>
<div class="t" style="left:1248.30px;top:712.00px;font-size:8.52px;line-height:8.52px;color:#3d4350;transform:scaleX(0.9173);transform-origin:0 0;">0.00</div>
<div class="a" style="left:1400.5px;top:711.0px;width:78.4px;height:9.8px;background:#fcebd2;border-radius:4.9px;"></div>
<div class="t" style="left:1423.80px;top:713.00px;font-size:7.68px;line-height:7.68px;color:#3b3d44;transform:scaleX(0.9403);transform-origin:0 0;">PENDING</div>
<svg class="a" style="left:1614.3px;top:712.1px;" width="12" height="6" viewBox="0 0 12 6"><circle cx="2.10" cy="3" r="1.0" fill="#474b54"/><circle cx="6.00" cy="3" r="1.0" fill="#474b54"/><circle cx="9.90" cy="3" r="1.0" fill="#474b54"/></svg>
<div class="a" style="left:255.6px;top:728.4px;width:1379.4px;height:1px;background:#eff0f3;"></div>
<div class="a" style="left:267px;top:734.1px;width:9.6px;height:9px;border:1px solid #c9ccd2;border-radius:1.5px;box-sizing:border-box;background:#fff;"></div>
<div class="t" style="left:298.90px;top:737.00px;font-size:8.52px;line-height:8.52px;color:#3a6fb8;transform:scaleX(0.9018);transform-origin:0 0;">Ariel Saxon</div>
<div class="t" style="left:573.40px;top:737.00px;font-size:8.52px;line-height:8.52px;color:#3d4350;transform:scaleX(0.8892);transform-origin:0 0;">BBQ Plate to Share</div>
<div class="t" style="left:791.60px;top:737.00px;font-size:8.52px;line-height:8.52px;color:#3a6fb8;transform:scaleX(0.9326);transform-origin:0 0;">Apr 10</div>
<div class="t" style="left:943.60px;top:737.00px;font-size:8.52px;line-height:8.52px;color:#3d4350;transform:scaleX(0.9173);transform-origin:0 0;">5.00</div>
<div class="t" style="left:1096.20px;top:737.00px;font-size:8.52px;line-height:8.52px;color:#3d4350;transform:scaleX(0.9278);transform-origin:0 0;">$5.00</div>
<div class="t" style="left:1248.30px;top:737.00px;font-size:8.52px;line-height:8.52px;color:#3d4350;transform:scaleX(0.9173);transform-origin:0 0;">0.00</div>
<div class="a" style="left:1400.5px;top:735.7px;width:78.4px;height:9.8px;background:#fcebd2;border-radius:4.9px;"></div>
<div class="t" style="left:1423.80px;top:737.00px;font-size:7.68px;line-height:7.68px;color:#3b3d44;transform:scaleX(0.9403);transform-origin:0 0;">PENDING</div>
<svg class="a" style="left:1614.3px;top:736.8000000000001px;" width="12" height="6" viewBox="0 0 12 6"><circle cx="2.10" cy="3" r="1.0" fill="#474b54"/><circle cx="6.00" cy="3" r="1.0" fill="#474b54"/><circle cx="9.90" cy="3" r="1.0" fill="#474b54"/></svg>
<div class="a" style="left:255.6px;top:753.5px;width:1379.4px;height:1px;background:#eff0f3;"></div>
<div class="a" style="left:267px;top:759.5px;width:9.6px;height:9px;border:1px solid #c9ccd2;border-radius:1.5px;box-sizing:border-box;background:#fff;"></div>
<div class="t" style="left:298.90px;top:762.00px;font-size:8.52px;line-height:8.52px;color:#3a6fb8;transform:scaleX(0.9287);transform-origin:0 0;">Minnie Julia Riperton</div>
<div class="t" style="left:573.40px;top:762.00px;font-size:8.52px;line-height:8.52px;color:#3d4350;transform:scaleX(0.9277);transform-origin:0 0;">spring 2023 in kind hour log</div>
<div class="t" style="left:791.60px;top:762.00px;font-size:8.52px;line-height:8.52px;color:#3a6fb8;transform:scaleX(0.9326);transform-origin:0 0;">Apr 10</div>
<div class="t" style="left:943.60px;top:762.00px;font-size:8.52px;line-height:8.52px;color:#3d4350;transform:scaleX(0.9090);transform-origin:0 0;">10.00</div>
<div class="t" style="left:1096.20px;top:762.00px;font-size:8.52px;line-height:8.52px;color:#3d4350;transform:scaleX(0.9278);transform-origin:0 0;">$0.00</div>
<div class="t" style="left:1248.30px;top:762.00px;font-size:8.52px;line-height:8.52px;color:#3d4350;transform:scaleX(0.9173);transform-origin:0 0;">0.00</div>
<div class="a" style="left:1400.5px;top:761.1px;width:78.4px;height:9.8px;background:#d4ecd7;border-radius:4.9px;"></div>
<div class="t" style="left:1419.90px;top:763.00px;font-size:7.68px;line-height:7.68px;color:#2f8a3e;transform:scaleX(0.9374);transform-origin:0 0;">APPROVED</div>
<svg class="a" style="left:1614.3px;top:762.2px;" width="12" height="6" viewBox="0 0 12 6"><circle cx="2.10" cy="3" r="1.0" fill="#474b54"/><circle cx="6.00" cy="3" r="1.0" fill="#474b54"/><circle cx="9.90" cy="3" r="1.0" fill="#474b54"/></svg>
<div class="a" style="left:255.6px;top:778.5px;width:1379.4px;height:1px;background:#eff0f3;"></div>
<div class="a" style="left:267px;top:784.4px;width:9.6px;height:9px;border:1px solid #c9ccd2;border-radius:1.5px;box-sizing:border-box;background:#fff;"></div>
<div class="t" style="left:298.90px;top:787.00px;font-size:8.52px;line-height:8.52px;color:#3a6fb8;transform:scaleX(0.9194);transform-origin:0 0;">Jack Robert Frost</div>
<div class="t" style="left:573.40px;top:787.00px;font-size:8.52px;line-height:8.52px;color:#3d4350;transform:scaleX(0.9078);transform-origin:0 0;">February 2023 Meal Delivery</div>
<div class="t" style="left:791.60px;top:787.00px;font-size:8.52px;line-height:8.52px;color:#3a6fb8;transform:scaleX(0.9280);transform-origin:0 0;">Mar 6</div>
<div class="t" style="left:943.60px;top:787.00px;font-size:8.52px;line-height:8.52px;color:#3d4350;transform:scaleX(0.9173);transform-origin:0 0;">4.00</div>
<div class="t" style="left:1096.20px;top:787.00px;font-size:8.52px;line-height:8.52px;color:#3d4350;transform:scaleX(0.9278);transform-origin:0 0;">$0.00</div>
<div class="t" style="left:1248.30px;top:787.00px;font-size:8.52px;line-height:8.52px;color:#3d4350;transform:scaleX(0.9173);transform-origin:0 0;">0.00</div>
<div class="a" style="left:1400.5px;top:786.0px;width:78.4px;height:9.8px;background:#d4ecd7;border-radius:4.9px;"></div>
<div class="t" style="left:1419.90px;top:788.00px;font-size:7.68px;line-height:7.68px;color:#2f8a3e;transform:scaleX(0.9374);transform-origin:0 0;">APPROVED</div>
<svg class="a" style="left:1614.3px;top:787.1px;" width="12" height="6" viewBox="0 0 12 6"><circle cx="2.10" cy="3" r="1.0" fill="#474b54"/><circle cx="6.00" cy="3" r="1.0" fill="#474b54"/><circle cx="9.90" cy="3" r="1.0" fill="#474b54"/></svg>
<div class="a" style="left:255.6px;top:803.3px;width:1379.4px;height:1px;background:#eff0f3;"></div>
<div class="a" style="left:267px;top:809.9px;width:9.6px;height:9px;border:1px solid #c9ccd2;border-radius:1.5px;box-sizing:border-box;background:#fff;"></div>
<div class="t" style="left:298.90px;top:813.00px;font-size:8.52px;line-height:8.52px;color:#3a6fb8;transform:scaleX(0.9018);transform-origin:0 0;">Ariel Saxon</div>
<div class="t" style="left:573.40px;top:813.00px;font-size:8.52px;line-height:8.52px;color:#3d4350;transform:scaleX(0.9424);transform-origin:0 0;">Letter Stuffers</div>
<div class="t" style="left:791.60px;top:813.00px;font-size:8.52px;line-height:8.52px;color:#3a6fb8;transform:scaleX(0.8817);transform-origin:0 0;">Feb 27</div>
<div class="t" style="left:943.60px;top:813.00px;font-size:8.52px;line-height:8.52px;color:#3d4350;transform:scaleX(0.9173);transform-origin:0 0;">5.00</div>
<div class="t" style="left:1096.20px;top:813.00px;font-size:8.52px;line-height:8.52px;color:#3d4350;transform:scaleX(0.9278);transform-origin:0 0;">$0.00</div>
<div class="t" style="left:1248.30px;top:813.00px;font-size:8.52px;line-height:8.52px;color:#3d4350;transform:scaleX(0.9173);transform-origin:0 0;">0.00</div>
<div class="a" style="left:1400.5px;top:811.5px;width:78.4px;height:9.8px;background:#e6e9ee;border-radius:4.9px;"></div>
<div class="t" style="left:1411.40px;top:813.00px;font-size:7.68px;line-height:7.68px;color:#3b3d44;transform:scaleX(0.9586);transform-origin:0 0;">STILL WORKING</div>
<svg class="a" style="left:1614.3px;top:812.6px;" width="12" height="6" viewBox="0 0 12 6"><circle cx="2.10" cy="3" r="1.0" fill="#474b54"/><circle cx="6.00" cy="3" r="1.0" fill="#474b54"/><circle cx="9.90" cy="3" r="1.0" fill="#474b54"/></svg>
<div class="a" style="left:255.6px;top:829.3px;width:1379.4px;height:1px;background:#eff0f3;"></div>
<div class="a" style="left:267px;top:834.9px;width:9.6px;height:9px;border:1px solid #c9ccd2;border-radius:1.5px;box-sizing:border-box;background:#fff;"></div>
<div class="t" style="left:298.90px;top:838.00px;font-size:8.52px;line-height:8.52px;color:#3a6fb8;transform:scaleX(0.9018);transform-origin:0 0;">Ariel Saxon</div>
<div class="t" style="left:573.40px;top:838.00px;font-size:8.52px;line-height:8.52px;color:#3d4350;transform:scaleX(0.9424);transform-origin:0 0;">Letter Stuffers</div>
<div class="t" style="left:791.60px;top:838.00px;font-size:8.52px;line-height:8.52px;color:#3a6fb8;transform:scaleX(0.8817);transform-origin:0 0;">Feb 27</div>
<div class="t" style="left:943.60px;top:838.00px;font-size:8.52px;line-height:8.52px;color:#3d4350;transform:scaleX(0.9173);transform-origin:0 0;">5.00</div>
<div class="t" style="left:1096.20px;top:838.00px;font-size:8.52px;line-height:8.52px;color:#3d4350;transform:scaleX(0.9278);transform-origin:0 0;">$0.00</div>
<div class="t" style="left:1248.30px;top:838.00px;font-size:8.52px;line-height:8.52px;color:#3d4350;transform:scaleX(0.9173);transform-origin:0 0;">0.00</div>
<div class="a" style="left:1400.5px;top:836.5px;width:78.4px;height:9.8px;background:#e6e9ee;border-radius:4.9px;"></div>
<div class="t" style="left:1411.40px;top:838.00px;font-size:7.68px;line-height:7.68px;color:#3b3d44;transform:scaleX(0.9586);transform-origin:0 0;">STILL WORKING</div>
<svg class="a" style="left:1614.3px;top:837.6px;" width="12" height="6" viewBox="0 0 12 6"><circle cx="2.10" cy="3" r="1.0" fill="#474b54"/><circle cx="6.00" cy="3" r="1.0" fill="#474b54"/><circle cx="9.90" cy="3" r="1.0" fill="#474b54"/></svg>
<div class="a" style="left:255.6px;top:854px;width:1379.4px;height:1px;background:#eceef1;"></div>
<div class="a" style="left:1555.4px;top:677px;width:63.2px;height:59.7px;background:#fff;border-radius:3px;box-shadow:0 1px 5px rgba(20,30,50,0.13);"></div>
<svg class="a" style="left:1602px;top:672.5px;" width="12" height="5" viewBox="0 0 12 5"><path d="M0 5 L6 0 L12 5 Z" fill="#fff"/></svg>
<div class="a" style="left:1555.4px;top:684.6px;width:63.2px;height:21.5px;background:#f4f5f7;"></div>
<svg class="a" style="left:1568.5px;top:689.5px;" width="8" height="10" viewBox="0 0 8 10"><path d="M0.5 0.5 L5 0.5 L7.5 3 L7.5 9.5 L0.5 9.5 Z" fill="#1f2e44"/><path d="M2.3 4.8 L5.2 8.2 M5.2 4.8 L2.3 8.2" stroke="#fff" stroke-width="0.9"/></svg>
<div class="t" style="left:1585.40px;top:691.00px;font-size:8.66px;line-height:8.66px;color:#1d2a3d;transform:scaleX(0.9258);transform-origin:0 0;-webkit-text-stroke:0.25px #1d2a3d;">Excel</div>
<svg class="a" style="left:1568px;top:713px;" width="10" height="9" viewBox="0 0 10 9"><rect x="0.6" y="0.6" width="8.8" height="7.8" rx="1" fill="none" stroke="#3a3f4b" stroke-width="1"/><path d="M0.6 4.5 L9.4 4.5 M5 0.6 L5 8.4" stroke="#3a3f4b" stroke-width="1"/></svg>
<div class="t" style="left:1587.00px;top:715.00px;font-size:8.66px;line-height:8.66px;color:#2b303c;transform:scaleX(0.8991);transform-origin:0 0;">CSV</div>
</div></div>
</body></html>
